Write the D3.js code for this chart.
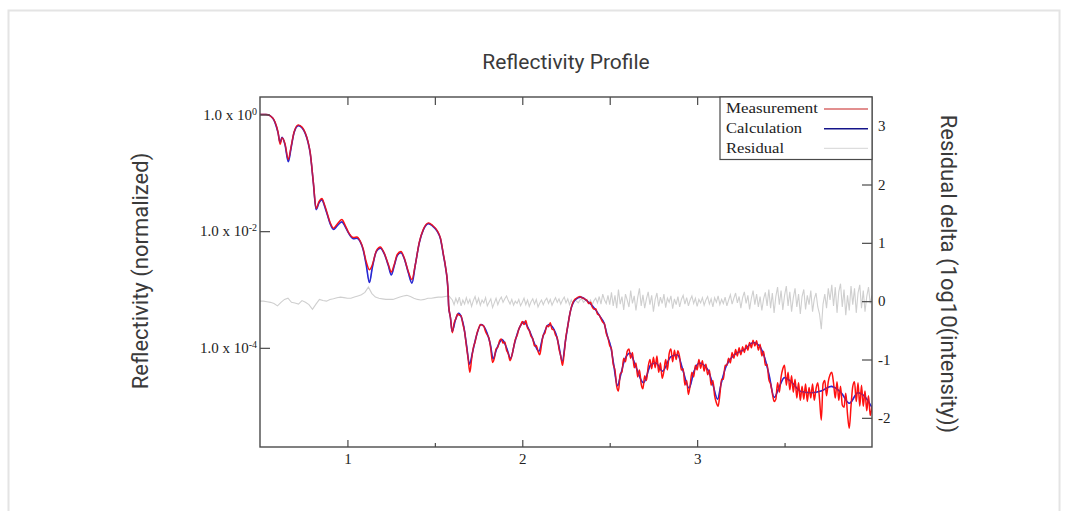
<!DOCTYPE html>
<html>
<head>
<meta charset="utf-8">
<script src="https://cdn.jsdelivr.net/npm/d3@7"></script>
<style>
  body { margin: 0; background: #fff; }
  svg { display: block; }
  .serif text, text.serif { font-family: "Liberation Serif", "Times New Roman", serif; }
  .sans { font-family: Roboto, "Noto Sans", sans-serif; fill: #3a3a3a; }
</style>
</head>
<body>
<div id="chart"></div>
<script>
// q values (x axis)
var qCalc = [
  0.500, 0.534, 0.557, 0.586, 0.603, 0.615, 0.626, 0.643, 0.662, 0.678,
  0.695, 0.719, 0.741, 0.758, 0.775, 0.787, 0.805, 0.821, 0.838, 0.854,
  0.867, 0.882, 0.901, 0.920, 0.941, 0.968, 0.987, 1.006, 1.035, 1.054,
  1.073, 1.090, 1.107, 1.126, 1.142, 1.165, 1.188, 1.211, 1.234, 1.251,
  1.268, 1.285, 1.306, 1.325, 1.348, 1.369, 1.388, 1.411, 1.434, 1.464,
  1.486, 1.513, 1.532, 1.550, 1.560, 1.576, 1.579, 1.589, 1.599, 1.618,
  1.636, 1.652, 1.665, 1.681, 1.698, 1.716, 1.732, 1.765, 1.799, 1.818,
  1.833, 1.852, 1.885, 1.910, 1.933, 1.956, 1.979, 2.009, 2.047, 2.070,
  2.095, 2.116, 2.152, 2.191, 2.208, 2.229, 2.248, 2.277, 2.305, 2.334,
  2.372, 2.420, 2.448, 2.467, 2.487, 2.506, 2.523, 2.544, 2.563, 2.586,
  2.616, 2.649, 2.693, 2.735, 2.764, 2.802, 2.850, 2.888, 2.918, 2.954,
  2.981, 3.012, 3.060, 3.090, 3.117, 3.136, 3.165, 3.212, 3.270, 3.323,
  3.354, 3.384, 3.411, 3.441, 3.468, 3.499, 3.537, 3.595, 3.652, 3.709,
  3.767, 3.824, 3.871, 3.919, 3.957, 4.005
];

// calculated reflectivity, log10
var calcLog = [
  0.00, 0.00, -0.02, -0.14, -0.31, -0.48, -0.39, -0.52, -0.81, -0.57,
  -0.31, -0.19, -0.23, -0.32, -0.48, -0.66, -1.17, -1.63, -1.51, -1.46,
  -1.55, -1.69, -1.87, -1.97, -1.91, -1.84, -1.92, -2.03, -2.13, -2.12,
  -2.18, -2.32, -2.57, -2.88, -2.63, -2.35, -2.29, -2.39, -2.59, -2.75,
  -2.59, -2.42, -2.37, -2.47, -2.71, -2.89, -2.58, -2.20, -1.98, -1.87,
  -1.91, -2.00, -2.13, -2.43, -2.60, -3.06, -3.29, -3.48, -3.72, -3.52,
  -3.41, -3.48, -3.63, -3.95, -4.28, -4.07, -3.86, -3.60, -3.75, -3.95,
  -4.19, -4.03, -3.86, -4.00, -4.18, -3.92, -3.69, -3.56, -3.75, -3.93,
  -4.06, -3.83, -3.60, -3.75, -3.95, -4.23, -3.86, -3.35, -3.17, -3.13,
  -3.20, -3.35, -3.48, -3.57, -3.80, -3.98, -4.29, -4.65, -4.46, -4.20,
  -4.09, -4.32, -4.60, -4.29, -4.26, -4.40, -4.15, -4.12, -4.38, -4.69,
  -4.41, -4.26, -4.37, -4.63, -4.88, -4.63, -4.32, -4.12, -4.03, -3.91,
  -3.96, -4.15, -4.46, -4.85, -4.68, -4.51, -4.58, -4.75, -4.77, -4.74,
  -4.66, -4.77, -4.95, -4.77, -4.83, -5.05
];

// coarse grid for the smooth part of the residual
var qCoarse = [
  0.50, 0.52, 0.54, 0.56, 0.58, 0.60, 0.62, 0.64, 0.66, 0.68,
  0.70, 0.72, 0.74, 0.76, 0.78, 0.80, 0.82, 0.84, 0.86, 0.88,
  0.90, 0.92, 0.94, 0.96, 0.98, 1.00, 1.02, 1.04, 1.06, 1.08,
  1.10, 1.12, 1.14, 1.16, 1.18, 1.20, 1.22, 1.24, 1.26, 1.28,
  1.30, 1.32, 1.34, 1.36, 1.38, 1.40, 1.42, 1.44, 1.46, 1.48,
  1.50, 1.52, 1.54, 1.56, 1.58
];

// fine grid for the noisy part (1.60 .. 4.00)
var qFine = [
  1.60, 1.61, 1.62, 1.63, 1.64, 1.65, 1.66, 1.67, 1.68, 1.69,
  1.70, 1.71, 1.72, 1.73, 1.74, 1.75, 1.76, 1.77, 1.78, 1.79,
  1.80, 1.81, 1.82, 1.83, 1.84, 1.85, 1.86, 1.87, 1.88, 1.89,
  1.90, 1.91, 1.92, 1.93, 1.94, 1.95, 1.96, 1.97, 1.98, 1.99,
  2.00, 2.01, 2.02, 2.03, 2.04, 2.05, 2.06, 2.07, 2.08, 2.09,
  2.10, 2.11, 2.12, 2.13, 2.14, 2.15, 2.16, 2.17, 2.18, 2.19,
  2.20, 2.21, 2.22, 2.23, 2.24, 2.25, 2.26, 2.27, 2.28, 2.29,
  2.30, 2.31, 2.32, 2.33, 2.34, 2.35, 2.36, 2.37, 2.38, 2.39,
  2.40, 2.41, 2.42, 2.43, 2.44, 2.45, 2.46, 2.47, 2.48, 2.49,
  2.50, 2.51, 2.52, 2.53, 2.54, 2.55, 2.56, 2.57, 2.58, 2.59,
  2.60, 2.61, 2.62, 2.63, 2.64, 2.65, 2.66, 2.67, 2.68, 2.69,
  2.70, 2.71, 2.72, 2.73, 2.74, 2.75, 2.76, 2.77, 2.78, 2.79,
  2.80, 2.81, 2.82, 2.83, 2.84, 2.85, 2.86, 2.87, 2.88, 2.89,
  2.90, 2.91, 2.92, 2.93, 2.94, 2.95, 2.96, 2.97, 2.98, 2.99,
  3.00, 3.01, 3.02, 3.03, 3.04, 3.05, 3.06, 3.07, 3.08, 3.09,
  3.10, 3.11, 3.12, 3.13, 3.14, 3.15, 3.16, 3.17, 3.18, 3.19,
  3.20, 3.21, 3.22, 3.23, 3.24, 3.25, 3.26, 3.27, 3.28, 3.29,
  3.30, 3.31, 3.32, 3.33, 3.34, 3.35, 3.36, 3.37, 3.38, 3.39,
  3.40, 3.41, 3.42, 3.43, 3.44, 3.45, 3.46, 3.47, 3.48, 3.49,
  3.50, 3.51, 3.52, 3.53, 3.54, 3.55, 3.56, 3.57, 3.58, 3.59,
  3.60, 3.61, 3.62, 3.63, 3.64, 3.65, 3.66, 3.67, 3.68, 3.69,
  3.70, 3.71, 3.72, 3.73, 3.74, 3.75, 3.76, 3.77, 3.78, 3.79,
  3.80, 3.81, 3.82, 3.83, 3.84, 3.85, 3.86, 3.87, 3.88, 3.89,
  3.90, 3.91, 3.92, 3.93, 3.94, 3.95, 3.96, 3.97, 3.98, 3.99,
  4.00
];

// measured reflectivity, log10 (first 58 on qCalc points, rest on qFine)
var measLog = [
  0.00, 0.00, -0.02, -0.13, -0.30, -0.51, -0.40, -0.50, -0.77, -0.55,
  -0.30, -0.18, -0.22, -0.31, -0.47, -0.65, -1.16, -1.61, -1.49, -1.44,
  -1.53, -1.67, -1.85, -1.95, -1.88, -1.80, -1.90, -2.02, -2.11, -2.10,
  -2.17, -2.30, -2.52, -2.66, -2.58, -2.34, -2.27, -2.38, -2.57, -2.70,
  -2.57, -2.40, -2.35, -2.46, -2.69, -2.83, -2.58, -2.19, -1.97, -1.86,
  -1.90, -1.99, -2.12, -2.42, -2.59, -3.05, -3.28, -3.48,
  -3.74, -3.58, -3.50, -3.42, -3.44, -3.45, -3.59, -3.72, -3.96, -4.18,
  -4.42, -4.20, -4.00, -3.90, -3.76, -3.67, -3.60, -3.61, -3.63, -3.72,
  -3.78, -3.84, -4.02, -4.25, -4.18, -4.02, -3.99, -3.88, -3.85, -3.92,
  -3.90, -4.04, -4.10, -4.22, -4.14, -4.00, -3.86, -3.79, -3.68, -3.62,
  -3.55, -3.60, -3.53, -3.66, -3.70, -3.80, -3.84, -3.97, -3.96, -4.06,
  -4.12, -3.95, -3.78, -3.74, -3.62, -3.64, -3.57, -3.68, -3.69, -3.78,
  -3.83, -4.02, -4.14, -4.30, -4.08, -3.80, -3.63, -3.45, -3.31, -3.22,
  -3.17, -3.15, -3.13, -3.12, -3.14, -3.15, -3.17, -3.19, -3.24, -3.22,
  -3.30, -3.34, -3.33, -3.42, -3.44, -3.50, -3.56, -3.59, -3.75, -3.83,
  -3.96, -4.02, -4.28, -4.38, -4.66, -4.74, -4.45, -4.41, -4.18, -4.24,
  -4.06, -4.02, -4.18, -4.08, -4.34, -4.26, -4.50, -4.38, -4.62, -4.70,
  -4.48, -4.56, -4.32, -4.20, -4.36, -4.16, -4.34, -4.14, -4.42, -4.26,
  -4.52, -4.40, -4.20, -4.38, -4.10, -4.02, -4.24, -4.04, -4.20, -4.05,
  -4.16, -4.38, -4.36, -4.64, -4.56, -4.80, -4.64, -4.42, -4.50, -4.30,
  -4.38, -4.20, -4.35, -4.22, -4.40, -4.28, -4.46, -4.38, -4.64, -4.56,
  -4.82, -4.94, -5.00, -4.80, -4.54, -4.54, -4.30, -4.30, -4.18, -4.26,
  -4.08, -4.18, -4.03, -4.14, -4.00, -4.12, -3.98, -4.08, -3.95, -4.04,
  -3.91, -4.00, -3.87, -3.97, -3.88, -4.04, -3.94, -4.14, -4.06, -4.30,
  -4.28, -4.54, -4.62, -4.78, -4.92, -4.88, -4.60, -4.76, -4.50, -4.36,
  -4.30, -4.64, -4.42, -4.72, -4.48, -4.76, -4.54, -4.86, -4.60, -4.90,
  -4.66, -4.88, -4.62, -4.92, -4.68, -4.86, -4.62, -4.90, -4.70, -4.60,
  -4.88, -5.24, -4.62, -4.56, -4.82, -4.58, -4.46, -4.42, -4.60, -4.86,
  -4.58, -4.90, -4.66, -4.98, -5.02, -4.78, -5.14, -5.38, -5.00, -4.66,
  -4.58, -4.92, -4.60, -5.00, -4.64, -5.00, -4.74, -5.08, -4.82, -5.16,
  -5.00
];

// residual delta, log10(intensity) (on qCoarse then qFine)
var resid = [
  0.00, 0.00, -0.01, -0.02, -0.04, -0.08, -0.02, 0.03, 0.05, -0.02,
  -0.03, -0.05, 0.01, -0.02, -0.06, -0.14, -0.05, 0.03, 0.01, 0.00,
  0.03, 0.04, 0.06, 0.07, 0.06, 0.05, 0.05, 0.07, 0.09, 0.11,
  0.15, 0.24, 0.13, 0.07, 0.05, 0.04, 0.03, 0.03, 0.03, 0.05,
  0.07, 0.09, 0.10, 0.08, 0.05, 0.03, 0.02, 0.03, 0.05, 0.05,
  0.06, 0.07, 0.07, 0.08, 0.09,
  0.02, -0.06, 0.05, -0.03, 0.07, -0.08, 0.02, -0.05, 0.06, -0.04,
  0.03, -0.09, 0.01, 0.08, -0.04, 0.05, -0.07, 0.02, -0.03, 0.06,
  -0.08, -0.02, 0.04, -0.11, -0.03, 0.05, -0.06, 0.02, 0.07, -0.02,
  0.04, 0.09, 0.01, -0.05, 0.03, -0.07, 0.00, -0.04, 0.03, -0.08,
  -0.02, 0.05, -0.06, 0.02, -0.09, -0.01, 0.04, -0.05, 0.03, -0.10,
  -0.03, 0.02, -0.06, 0.01, 0.05, -0.04, 0.03, -0.07, 0.00, 0.06,
  -0.02, 0.04, -0.05, 0.02, 0.07, -0.03, 0.04, -0.06, 0.02, -0.04,
  0.03, 0.00, -0.03, 0.02, 0.04, -0.02, 0.01, 0.03, -0.04, 0.02,
  -0.06, 0.01, 0.05, -0.03, 0.08, -0.05, 0.12, 0.02, -0.04, 0.10,
  -0.06, 0.15, -0.08, 0.10, -0.12, 0.20, -0.05, 0.08, -0.15, 0.12,
  0.02, -0.10, 0.18, -0.04, 0.09, -0.16, 0.06, 0.22, -0.08, 0.11,
  -0.12, 0.04, 0.16, -0.06, 0.10, -0.18, 0.03, 0.14, -0.09, 0.07,
  -0.04, 0.12, -0.11, 0.05, -0.02, 0.09, -0.13, 0.04, -0.06, 0.08,
  -0.10, 0.03, 0.10, -0.05, 0.06, -0.08, 0.02, 0.09, -0.04, 0.05,
  -0.09, 0.03, -0.03, 0.06, -0.07, 0.02, 0.08, -0.05, 0.04, -0.10,
  0.06, -0.02, 0.09, -0.06, 0.03, -0.04, 0.07, -0.08, 0.02, 0.11,
  -0.05, 0.05, 0.14, -0.03, 0.08, -0.12, 0.06, 0.16, -0.04, 0.10,
  -0.14, 0.05, 0.18, -0.06, 0.12, -0.10, 0.08, -0.16, 0.04, 0.15,
  -0.08, 0.20, -0.12, 0.14, -0.20, 0.08, 0.24, -0.06, 0.18, -0.15,
  0.10, 0.26, -0.08, 0.16, -0.18, 0.06, 0.22, -0.10, 0.12, -0.22,
  0.08, 0.20, -0.14, 0.10, -0.06, 0.18, -0.18, 0.04, 0.14, -0.10,
  -0.22, -0.48, -0.05, 0.12, -0.12, 0.22, 0.02, 0.28, -0.08, 0.24,
  -0.20, 0.16, 0.30, -0.10, 0.20, -0.24, 0.10, -0.16, 0.26, -0.06,
  0.22, -0.20, 0.14, 0.28, -0.12, 0.18, -0.18, 0.08, 0.24, -0.04,
  0.10
];

var xTicks = [1, 2, 3];
var xMinorTicks = [1.5, 2.5, 3.5];
var yLeftTicks = [1, 1e-2, 1e-4];
var yRightTicks = [-2, -1, 0, 1, 2, 3];
var legendItems = ["Measurement", "Calculation", "Residual"];
var legendWidths = [92, 76, 58];

var width = 1068, height = 511;
var plot = {left: 260, right: 872, top: 97, bottom: 447};

var svg = d3.select("#chart").append("svg")
  .attr("width", width)
  .attr("height", height);

// card outline
svg.append("rect")
  .attr("x", 8.5).attr("y", 10.5)
  .attr("width", 1051).attr("height", 520)
  .attr("fill", "#fff")
  .attr("stroke", "#e4e4e4")
  .attr("stroke-width", 2);

svg.append("text")
  .attr("class", "sans")
  .attr("x", 566).attr("y", 69)
  .attr("text-anchor", "middle")
  .style("font-size", "21px")
  .text("Reflectivity Profile");

svg.append("text")
  .attr("class", "sans")
  .attr("transform", "translate(148,271) rotate(-90)")
  .attr("text-anchor", "middle")
  .style("font-size", "22px")
  .text("Reflectivity (normalized)");

svg.append("text")
  .attr("class", "sans")
  .attr("transform", "translate(941,274) rotate(90)")
  .attr("text-anchor", "middle")
  .style("font-size", "22px")
  .text("Residual delta (1og10(intensity))");

// scales
var x = d3.scaleLinear().domain([0.5, 4.0]).range([plot.left, plot.right]);
var yL = d3.scaleLog().domain([Math.pow(10, -5.7), Math.pow(10, 0.3)]).range([plot.bottom, plot.top]);
var yR = d3.scaleLinear().domain([-2.5, 3.5]).range([plot.bottom, plot.top]);

svg.append("clipPath").attr("id", "clip")
  .append("rect")
  .attr("x", plot.left).attr("y", plot.top)
  .attr("width", plot.right - plot.left).attr("height", plot.bottom - plot.top);

var qMeas = qCalc.slice(0, 58).concat(qFine);
var qResid = qCoarse.concat(qFine);

var meas = qMeas.map((q, i) => ({q: q, v: Math.pow(10, measLog[i])}));
var calc = qCalc.map((q, i) => ({q: q, v: Math.pow(10, calcLog[i])}));
var res = qResid.map((q, i) => ({q: q, v: resid[i]}));

var lineL = d3.line().x(d => x(d.q)).y(d => yL(d.v)).curve(d3.curveMonotoneX);
var lineR = d3.line().x(d => x(d.q)).y(d => yR(d.v)).curve(d3.curveLinear);

var g = svg.append("g").attr("clip-path", "url(#clip)");

g.append("path").datum(res)
  .attr("d", lineR)
  .attr("fill", "none")
  .attr("stroke", "#cfcfcf")
  .attr("stroke-width", 1.1);

g.append("path").datum(calc)
  .attr("d", lineL)
  .attr("fill", "none")
  .attr("stroke", "#2626d6")
  .attr("stroke-width", 1.6);

g.append("path").datum(meas)
  .attr("d", lineL)
  .attr("fill", "none")
  .attr("stroke", "#ff1010")
  .attr("stroke-width", 1.5);

// thin calculation trace over the data, as in the original plot
g.append("path").datum(calc)
  .attr("d", lineL)
  .attr("fill", "none")
  .attr("stroke", "#3030c8")
  .attr("stroke-opacity", 0.5)
  .attr("stroke-width", 0.8);

// axes
var axisColor = "#4a4a4a";
function styleAxis(sel) {
  sel.select(".domain").remove();
  sel.selectAll(".tick line").attr("stroke", axisColor).attr("stroke-width", 1.2);
  sel.selectAll(".tick text").attr("fill", "#222").style("font-size", "15px");
}

svg.append("g").attr("class", "serif")
  .attr("transform", "translate(0," + plot.bottom + ")")
  .call(d3.axisBottom(x).tickValues(xTicks).tickSize(-7).tickPadding(6).tickFormat(d3.format("d")))
  .call(styleAxis);

svg.append("g").attr("class", "serif")
  .attr("transform", "translate(0," + plot.bottom + ")")
  .call(d3.axisBottom(x).tickValues(xMinorTicks).tickSize(-4).tickFormat(""))
  .call(styleAxis);

svg.append("g").attr("class", "serif")
  .attr("transform", "translate(0," + plot.top + ")")
  .call(d3.axisTop(x).tickValues(xTicks.concat(xMinorTicks)).tickSize(-8).tickFormat(""))
  .call(styleAxis);

svg.append("g").attr("class", "serif")
  .attr("transform", "translate(" + plot.left + ",0)")
  .call(d3.axisLeft(yL).tickValues(yLeftTicks).tickSize(-10).tickPadding(3))
  .call(styleAxis)
  .selectAll(".tick text")
  .each(function(d) {
    var t = d3.select(this).text(null);
    t.append("tspan").text("1.0 x 10");
    t.append("tspan").attr("dy", "-0.5em").style("font-size", "10px")
      .text(Math.round(Math.log10(d)));
  });

svg.append("g").attr("class", "serif")
  .attr("transform", "translate(" + plot.right + ",0)")
  .call(d3.axisRight(yR).tickValues(yRightTicks).tickSize(-10).tickPadding(6).tickFormat(d => String(d)))
  .call(styleAxis);

// frame
svg.append("rect")
  .attr("x", plot.left).attr("y", plot.top)
  .attr("width", plot.right - plot.left).attr("height", plot.bottom - plot.top)
  .attr("fill", "none")
  .attr("stroke", axisColor)
  .attr("stroke-width", 1.4);

// legend
var legendColors = ["#d86a6a", "#14148a", "#dddddd"];
var lg = svg.append("g").attr("class", "serif");
lg.append("rect")
  .attr("x", 720).attr("y", plot.top)
  .attr("width", plot.right - 720).attr("height", 62.5)
  .attr("fill", "#fff")
  .attr("stroke", axisColor)
  .attr("stroke-width", 1.2);

var item = lg.selectAll(".item").data(legendItems).enter().append("g")
  .attr("transform", (d, i) => "translate(0," + (i * 19.7) + ")");
item.append("text")
  .attr("x", 726).attr("y", 113.3)
  .attr("fill", "#222")
  .attr("textLength", (d, i) => legendWidths[i])
  .attr("lengthAdjust", "spacingAndGlyphs")
  .style("font-size", "15px")
  .text(d => d);
item.append("line")
  .attr("x1", 824).attr("x2", 868)
  .attr("y1", 109).attr("y2", 109)
  .attr("stroke", (d, i) => legendColors[i])
  .attr("stroke-width", 1.4);
</script>
</body>
</html>
